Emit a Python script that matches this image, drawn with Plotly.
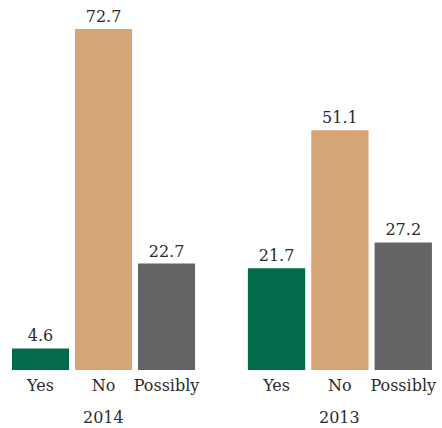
import plotly.graph_objects as go
from plotly.subplots import make_subplots

years = ["2014", "2013"]
answers = ["Yes", "No", "Possibly"]
values_2014 = [4.6, 72.7, 22.7]
values_2013 = [21.7, 51.1, 27.2]
colors = ["#026b4c", "#d6a575", "#636466"]

FONT = "DejaVu Serif"
TEXT = "#2b2b2b"
SIZE = 16

fig = make_subplots(rows=1, cols=2, horizontal_spacing=0.0)

for col, vals in enumerate([values_2014, values_2013], start=1):
    fig.add_trace(
        go.Bar(
            x=answers,
            y=vals,
            marker=dict(color=colors, line=dict(width=0)),
            text=[f"{v:.1f}" for v in vals],
            textposition="outside",
            textfont=dict(family=FONT, size=SIZE, color=TEXT),
            cliponaxis=False,
            hoverinfo="skip",
            showlegend=False,
        ),
        row=1,
        col=col,
    )

ymax = max(values_2014 + values_2013) * 370 / 341

axis_common = dict(
    showgrid=False,
    zeroline=False,
    showline=False,
    ticks="",
    ticklabelstandoff=4,
    tickfont=dict(family=FONT, size=SIZE, color=TEXT),
)
fig.update_xaxes(**axis_common)
fig.update_yaxes(visible=False, range=[0, ymax], fixedrange=True)
fig.update_layout(
    xaxis=dict(domain=[0.0204, 0.448]),
    xaxis2=dict(domain=[0.554, 0.984]),
)

for i, year in enumerate(years):
    ref = "x domain" if i == 0 else "x2 domain"
    fig.add_annotation(
        text=year,
        xref=ref,
        x=0.5,
        yref="paper",
        y=-0.129,
        yanchor="middle",
        showarrow=False,
        font=dict(family=FONT, size=SIZE, color=TEXT),
    )

fig.update_layout(
    width=442,
    height=428,
    margin=dict(l=0, r=0, t=0, b=58),
    bargap=0.095,
    plot_bgcolor="white",
    paper_bgcolor="white",
    font=dict(family=FONT, color=TEXT),
)

fig.write_html("out.html")
